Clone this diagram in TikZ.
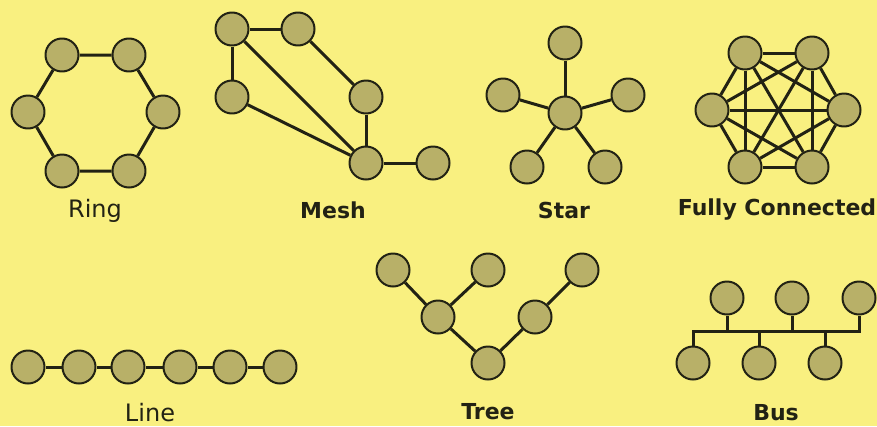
\documentclass[tikz,border=0pt]{standalone}
\usepackage{fontspec}
\setmainfont{DejaVu Sans}
\definecolor{paper}{RGB}{249,240,128}
\definecolor{ball}{RGB}{184,176,104}
\definecolor{rim}{RGB}{34,34,20}
\pgfdeclarelayer{paperlayer}
\pgfdeclarelayer{edges}
\pgfsetlayers{paperlayer,edges,main}
\tikzset{nd/.style={circle,draw=rim,fill=ball,line width=2pt,minimum size=33pt,inner sep=0pt},
lnk/.style={draw=rim,line width=3pt},
lbl/.style={font=\fontsize{22}{26}\selectfont\bfseries,text=rim},
lbn/.style={font=\fontsize{24}{28}\selectfont,text=rim}}
\begin{document}
\begin{tikzpicture}[x=1pt,y=-1pt,line join=round]
\begin{pgfonlayer}{paperlayer}
\fill[paper](0,0)rectangle(877,426);
\end{pgfonlayer}
\useasboundingbox(0,0)rectangle(877,426);
% ring
\node[nd](r1)at(62,55){};\node[nd](r2)at(129,55){};\node[nd](r3)at(163,112){};
\node[nd](r4)at(129,171){};\node[nd](r5)at(62,171){};\node[nd](r6)at(28,112){};
\begin{pgfonlayer}{edges}
\path[lnk](r1)--(r2)--(r3)--(r4)--(r5)--(r6)--(r1);
\end{pgfonlayer}
\node[lbn](ring)at(95,211){Ring};
% mesh
\node[nd](m1)at(232,29){};\node[nd](m2)at(298,29){};\node[nd](m3)at(232,97){};
\node[nd](m4)at(366,97){};\node[nd](m5)at(366,163){};\node[nd](m6)at(433,163){};
\begin{pgfonlayer}{edges}
\path[lnk](m1)--(m2);\path[lnk](m1)--(m3);\path[lnk](m1)--(m5);\path[lnk](m3)--(m5);
\path[lnk](m2)--(m4);\path[lnk](m4)--(m5);\path[lnk](m5)--(m6);
\end{pgfonlayer}
\node[lbl](mesh)at(333,210){Mesh};
% star
\node[nd](s0)at(565,113){};\node[nd](s1)at(565,43){};\node[nd](s2)at(628,95){};
\node[nd](s3)at(605,167){};\node[nd](s4)at(527,167){};\node[nd](s5)at(503,95){};
\begin{pgfonlayer}{edges}
\foreach \i in {1,...,5}{\path[lnk](s0)--(s\i);}
\end{pgfonlayer}
\node[lbl](star)at(564,210){Star};
% fully connected
\node[nd](f1)at(745,53){};\node[nd](f2)at(812,53){};\node[nd](f3)at(844,110){};
\node[nd](f4)at(812,167){};\node[nd](f5)at(745,167){};\node[nd](f6)at(712,110){};
\begin{pgfonlayer}{edges}
\foreach \i/\j in {1/2,1/3,1/4,1/5,1/6,2/3,2/4,2/5,2/6,3/4,3/5,3/6,4/5,4/6,5/6}{\path[lnk](f\i)--(f\j);}
\end{pgfonlayer}
\node[lbl](full)at(777,210){Fully Connected};
% line
\foreach \i/\x in {1/28,2/79,3/128,4/180,5/230,6/280}{\node[nd](l\i)at(\x,367){};}
\begin{pgfonlayer}{edges}
\foreach \i/\j in {1/2,2/3,3/4,4/5,5/6}{\path[lnk](l\i)--(l\j);}
\end{pgfonlayer}
\node[lbn](line)at(150,413){Line};
% tree
\node[nd](t1)at(393,270){};\node[nd](t2)at(488,270){};\node[nd](t3)at(582,270){};
\node[nd](t4)at(438,317){};\node[nd](t5)at(535,317){};\node[nd](t6)at(488,363){};
\begin{pgfonlayer}{edges}
\path[lnk](t1)--(t4);\path[lnk](t2)--(t4);\path[lnk](t4)--(t6);\path[lnk](t6)--(t5);\path[lnk](t5)--(t3);
\end{pgfonlayer}
\node[lbl](tree)at(488,412){Tree};
% bus
\node[nd](b1)at(727,298){};\node[nd](b2)at(792,298){};\node[nd](b3)at(859,298){};
\node[nd](b4)at(693,363){};\node[nd](b5)at(759,363){};\node[nd](b6)at(825,363){};
\coordinate(bl)at(693,331);\coordinate(br)at(859,331);
\begin{pgfonlayer}{edges}
\path[lnk,line cap=rect](bl)--(br);
\foreach \i in {1,...,6}{\path[lnk](b\i)--(b\i|-bl);}
\end{pgfonlayer}
\node[lbl](bus)at(776,413){Bus};
\end{tikzpicture}
\end{document}
